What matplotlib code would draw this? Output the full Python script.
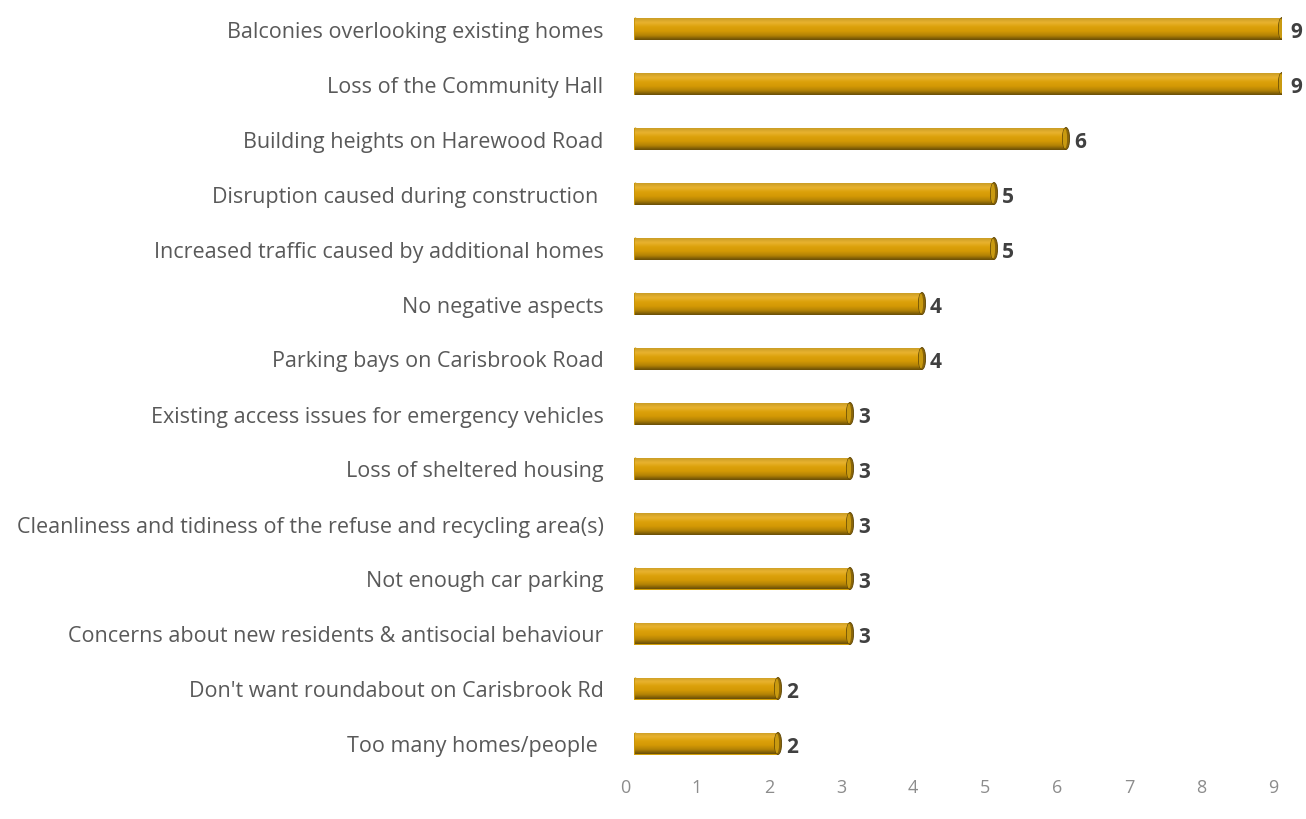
import matplotlib
matplotlib.use("Agg")
import matplotlib.pyplot as plt
import matplotlib.transforms as mtransforms
from matplotlib.patches import Ellipse
import numpy as np

categories = [
    "Balconies overlooking existing homes",
    "Loss of the Community Hall",
    "Building heights on Harewood Road",
    "Disruption caused during construction ",
    "Increased traffic caused by additional homes",
    "No negative aspects",
    "Parking bays on Carisbrook Road",
    "Existing access issues for emergency vehicles",
    "Loss of sheltered housing",
    "Cleanliness and tidiness of the refuse and recycling area(s)",
    "Not enough car parking",
    "Concerns about new residents & antisocial behaviour",
    "Don't want roundabout on Carisbrook Rd",
    "Too many homes/people ",
]
counts = [9, 9, 6, 5, 5, 4, 4, 3, 3, 3, 3, 3, 2, 2]
ticks = list(range(10))

plt.rcParams['font.family'] = ['Open Sans', 'DejaVu Sans']

fig = plt.figure(figsize=(13.06, 8.2), dpi=100)
ax = fig.add_axes([634 / 1306, 1 - 772 / 820, 648 / 1306, 770 / 820])

ypos = np.arange(len(categories))
bar_h = 0.40

# vertical gradient to fake the cylinder look
grad = np.array([
    [0.80, 0.62, 0.15],
    [0.91, 0.70, 0.18],
    [0.86, 0.63, 0.04],
    [0.83, 0.60, 0.02],
    [0.70, 0.51, 0.02],
    [0.42, 0.31, 0.03],
])
n = 40
t = np.linspace(0, 1, n)
src = np.linspace(0, 1, len(grad))
cols = np.stack([np.interp(t, src, grad[:, k]) for k in range(3)], axis=1)
img = cols[:, None, :]

bars = ax.barh(ypos, counts, height=bar_h, color="#D4A00A", edgecolor="none", zorder=2)
for b, v, y in zip(bars, counts, ypos):
    ax.add_patch(Ellipse((0.02, y), 0.09, bar_h, facecolor="#C8950A",
                         edgecolor="none", zorder=2))
    im = ax.imshow(img, extent=[0.02, v, y + bar_h / 2, y - bar_h / 2],
                   aspect="auto", zorder=3, interpolation="bilinear")
    im.set_clip_path(b)
    ax.add_patch(Ellipse((v, y), 0.10, bar_h, facecolor="#8A6508",
                         edgecolor="#5E4504", linewidth=0.6, zorder=4))
    ax.add_patch(Ellipse((v - 0.015, y), 0.06, bar_h * 0.9, facecolor="#C99A10",
                         edgecolor="none", zorder=4))
    ax.text(v + 0.11, y + 0.05, str(v), va="center", ha="left", fontsize=15,
            fontweight="bold", color="#404040", zorder=5)

ax.set_xlim(0, 9)
ax.set_ylim(len(categories) - 0.5, -0.5)
ax.set_xticks(ticks)
ax.set_xticklabels([str(t) for t in ticks], fontsize=13, color="#8c8c8c")
ax.set_yticks(ypos)
ax.set_yticklabels(categories, fontsize=15.5, color="#595959")
ax.tick_params(axis="both", length=0)
ax.tick_params(axis="y", pad=22)
ax.tick_params(axis="x", pad=5)
shift = mtransforms.ScaledTranslation(-9 / 100, 0, fig.dpi_scale_trans)
for lab in ax.get_xticklabels():
    lab.set_transform(lab.get_transform() + shift)
for s in ax.spines.values():
    s.set_visible(False)

fig.savefig("out.png", dpi=100)
